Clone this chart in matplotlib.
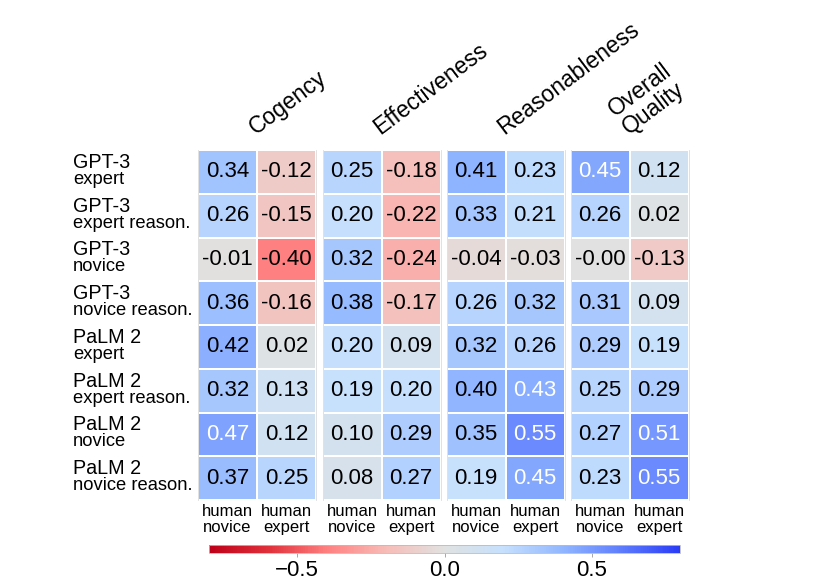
import matplotlib
matplotlib.use("Agg")
import matplotlib.pyplot as plt
import numpy as np
from matplotlib.colors import LinearSegmentedColormap, Normalize

plt.rcParams['font.family'] = ['Liberation Sans', 'DejaVu Sans']

# data: correlation of each generator with human novice / human expert judges
models = ["GPT-3", "GPT-3", "GPT-3", "GPT-3", "PaLM 2", "PaLM 2", "PaLM 2", "PaLM 2"]
variants = ["expert", "expert reason.", "novice", "novice reason.",
            "expert", "expert reason.", "novice", "novice reason."]
judges = ["human\nnovice", "human\nexpert"]
aspects = ["Cogency", "Effectiveness", "Reasonableness", "Overall\nQuality"]

cogency = [[0.34, -0.12], [0.26, -0.15], [-0.01, -0.40], [0.36, -0.16],
           [0.42, 0.02], [0.32, 0.13], [0.47, 0.12], [0.37, 0.25]]
effectiveness = [[0.25, -0.18], [0.20, -0.22], [0.32, -0.24], [0.38, -0.17],
                 [0.20, 0.09], [0.19, 0.20], [0.10, 0.29], [0.08, 0.27]]
reasonableness = [[0.41, 0.23], [0.33, 0.21], [-0.04, -0.03], [0.26, 0.32],
                  [0.32, 0.26], [0.40, 0.43], [0.35, 0.55], [0.19, 0.45]]
overall = [[0.45, 0.12], [0.26, 0.02], [-0.004, -0.13], [0.31, 0.09],
           [0.29, 0.19], [0.25, 0.29], [0.27, 0.51], [0.23, 0.55]]

panels = [cogency, effectiveness, reasonableness, overall]

# red - grey - blue colour scale like the original
cmap = LinearSegmentedColormap.from_list("rgb_div", [
    (0.0, "#be0018"), (0.125, "#e0303a"), (0.25, "#ff8080"), (0.375, "#f7bcb7"),
    (0.5, "#e0e2e1"), (0.625, "#c6e0fd"), (0.75, "#92b7ff"), (0.875, "#5e7dfd"),
    (1.0, "#2a3cf6")])
norm = Normalize(vmin=-0.8, vmax=0.8)

fig = plt.figure(figsize=(8.3, 5.87), dpi=100)

W, H = 830., 587.
lefts = [198, 322.5, 446.5, 570.5]
pw = 118
top, bottom = 150, 500

for k, data in enumerate(panels):
    arr = np.array(data)
    ax = fig.add_axes([lefts[k] / W, 1 - bottom / H, pw / W, (bottom - top) / H])
    ax.pcolormesh(arr, cmap=cmap, norm=norm, edgecolors="white", linewidth=0.35)
    ax.set_xlim(0, 2)
    ax.set_ylim(len(arr), 0)
    for i in range(arr.shape[0]):
        for j in range(arr.shape[1]):
            v = arr[i, j]
            ax.text(j + 0.5, i + 0.5, "%.2f" % v, ha="center", va="center",
                    fontsize=16, color="white" if v > 0.425 else "black")
    ax.set_xticks([0.5, 1.5])
    ax.set_xticklabels(judges, fontsize=12, linespacing=1.05)
    ax.tick_params(length=0, pad=3)
    ax.set_yticks([])
    for name, s in ax.spines.items():
        if name in ("left", "right"):
            s.set_color("#dcdcdc")
            s.set_linewidth(0.6)
        else:
            s.set_visible(False)
    # rotated aspect title
    cx = (lefts[k] + pw / 2 + 2) / W
    fig.text(cx, 1 - 139 / H, aspects[k], rotation=37, rotation_mode="anchor",
             ha="left", va="bottom", fontsize=16.5, linespacing=1.0)

# row labels: model name over a smaller variant line
rh = (bottom - top) / len(models)
for i in range(len(models)):
    yc = top + rh * (i + 0.5)
    fig.text(73 / W, 1 - (yc - 4) / H, models[i], fontsize=14.2,
             ha="left", va="baseline")
    fig.text(73 / W, 1 - (yc + 12) / H, variants[i], fontsize=13.2,
             ha="left", va="baseline")

# colour bar
cax = fig.add_axes([209 / W, 1 - 553 / H, 471 / W, 8 / H])
cb = fig.colorbar(plt.cm.ScalarMappable(norm=norm, cmap=cmap), cax=cax,
                  orientation="horizontal", ticks=[-0.5, 0.0, 0.5])
cb.outline.set_edgecolor("#bbbbbb")
cb.outline.set_linewidth(0.6)
cax.tick_params(labelsize=16, length=3, width=0.6, color="#999999", pad=2)

fig.savefig("out.png", dpi=100)
